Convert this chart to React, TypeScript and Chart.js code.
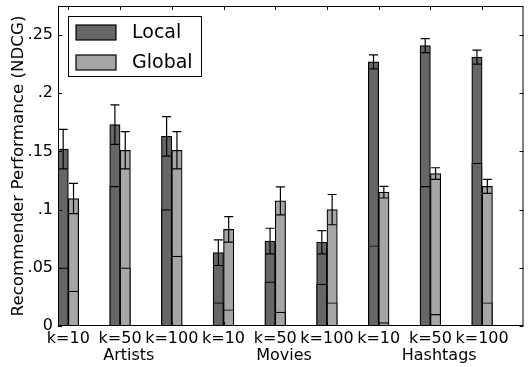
import React, { useEffect, useRef } from "react";
import { Chart, registerables } from "chart.js";

Chart.register(...registerables);

const K_LABELS = ["k=10", "k=50", "k=100", "k=10", "k=50", "k=100", "k=10", "k=50", "k=100"];
const GROUP_LABELS = ["Artists", "Movies", "Hashtags"];
const GROUP_INDEX = [1, 4, 7];

const LOCAL = [0.152, 0.173, 0.163, 0.063, 0.073, 0.072, 0.227, 0.241, 0.231];
const LOCAL_ERR = [0.017, 0.017, 0.017, 0.011, 0.011, 0.010, 0.006, 0.006, 0.006];
const LOCAL_BASE = [0.05, 0.12, 0.10, 0.02, 0.038, 0.036, 0.069, 0.12, 0.14];

const GLOBAL = [0.1095, 0.151, 0.151, 0.083, 0.1075, 0.1, 0.115, 0.131, 0.12];
const GLOBAL_ERR = [0.013, 0.016, 0.016, 0.011, 0.012, 0.013, 0.005, 0.005, 0.006];
const GLOBAL_BASE = [0.03, 0.05, 0.06, 0.014, 0.012, 0.02, 0.003, 0.01, 0.02];

const Y_TICKS = [0, 0.05, 0.1, 0.15, 0.2, 0.25];
const Y_MAX = 0.275;

const LOCAL_COLOR = "#666666";
const GLOBAL_COLOR = "#a6a6a6";
const FONT = "DejaVu Sans";

const fmt = (v: number) => (v === 0 ? "0" : String(v).replace(/^0/, ""));

export default function App() {
  const ref = useRef<HTMLCanvasElement | null>(null);

  useEffect(() => {
    document.body.style.margin = "0";
    const canvas = ref.current;
    if (!canvas) return;

    const nulls = K_LABELS.map(() => null);
    const barBase = {
      borderColor: "#000",
      borderWidth: 1.2,
      borderSkipped: false as const,
      barPercentage: 1,
      categoryPercentage: 1,
    };

    const slotOf = (chart: any) => (chart.chartArea.right - chart.chartArea.left) / K_LABELS.length;
    const tickX = (chart: any, i: number) => chart.chartArea.left + (i + 0.2) * slotOf(chart);

    const decor = {
      id: "decor",
      afterDatasetsDraw(chart: any) {
        const ctx = chart.ctx;
        const { left, right, top, bottom } = chart.chartArea;
        const y = chart.scales.y;
        ctx.save();
        // error bars
        ctx.strokeStyle = "#000";
        ctx.lineWidth = 1.2;
        const errSets: [number, number[], number[]][] = [
          [0, LOCAL, LOCAL_ERR],
          [1, GLOBAL, GLOBAL_ERR],
        ];
        for (const [di, vals, errs] of errSets) {
          const meta = chart.getDatasetMeta(di);
          meta.data.forEach((el: any, i: number) => {
            const x = el.x;
            const y1 = y.getPixelForValue(vals[i] + errs[i]);
            const y2 = y.getPixelForValue(vals[i] - errs[i]);
            ctx.beginPath();
            ctx.moveTo(x, y1);
            ctx.lineTo(x, y2);
            ctx.moveTo(x - 4.5, y1);
            ctx.lineTo(x + 4.5, y1);
            ctx.moveTo(x - 4.5, y2);
            ctx.lineTo(x + 4.5, y2);
            ctx.stroke();
          });
        }
        // frame
        ctx.lineWidth = 1;
        ctx.strokeRect(left + 0.5, top + 0.5, right - left - 1, bottom - top - 1);
        // ticks
        ctx.beginPath();
        for (const v of Y_TICKS) {
          const py = Math.round(y.getPixelForValue(v)) + 0.5;
          ctx.moveTo(left, py);
          ctx.lineTo(left + 4, py);
          ctx.moveTo(right, py);
          ctx.lineTo(right - 4, py);
        }
        for (let i = 0; i < K_LABELS.length; i++) {
          const px = Math.round(tickX(chart, i)) + 0.5;
          ctx.moveTo(px, top);
          ctx.lineTo(px, top + 4);
          ctx.moveTo(px, bottom);
          ctx.lineTo(px, bottom - 4);
        }
        ctx.stroke();
        // x labels
        ctx.fillStyle = "#000";
        ctx.font = `16px '${FONT}'`;
        ctx.textAlign = "center";
        ctx.textBaseline = "alphabetic";
        K_LABELS.forEach((lab, i) => {
          ctx.fillText(lab, tickX(chart, i), bottom + 17);
        });
        GROUP_LABELS.forEach((lab, g) => {
          ctx.fillText(lab, tickX(chart, GROUP_INDEX[g]) + 0.17 * slotOf(chart), bottom + 34);
        });
        // legend
        const lx = left + 10;
        const ly = top + 10;
        ctx.fillStyle = "#fff";
        ctx.fillRect(lx, ly, 133, 60);
        ctx.strokeStyle = "#000";
        ctx.lineWidth = 1;
        ctx.strokeRect(lx + 0.5, ly + 0.5, 133, 60);
        const items: [string, string][] = [
          ["Local", LOCAL_COLOR],
          ["Global", GLOBAL_COLOR],
        ];
        items.forEach(([lab, col], k) => {
          const sy = ly + 9 + k * 30;
          ctx.fillStyle = col;
          ctx.fillRect(lx + 8, sy, 40, 15);
          ctx.lineWidth = 1.2;
          ctx.strokeRect(lx + 8, sy, 40, 15);
          ctx.fillStyle = "#000";
          ctx.font = `19px '${FONT}'`;
          ctx.textAlign = "left";
          ctx.textBaseline = "middle";
          ctx.fillText(lab, lx + 64, sy + 8);
        });
        ctx.restore();
      },
    };

    const chart = new Chart(canvas, {
      type: "bar",
      data: {
        labels: K_LABELS,
        datasets: [
          { label: "Local", data: LOCAL, backgroundColor: LOCAL_COLOR, stack: "L", order: 2, ...barBase },
          { label: "Global", data: GLOBAL, backgroundColor: GLOBAL_COLOR, stack: "G", order: 2, ...barBase },
          { label: "d1", data: nulls, stack: "d1", order: 3, ...barBase },
          { label: "d2", data: nulls, stack: "d2", order: 3, ...barBase },
          { label: "d3", data: nulls, stack: "d3", order: 3, ...barBase },
          { label: "Local base", data: LOCAL_BASE, backgroundColor: LOCAL_COLOR, stack: "L", order: 1, ...barBase },
          { label: "Global base", data: GLOBAL_BASE, backgroundColor: GLOBAL_COLOR, stack: "G", order: 1, ...barBase },
        ],
      },
      options: {
        animation: false,
        responsive: true,
        maintainAspectRatio: false,
        layout: { padding: { left: 0, right: 8.5, top: 6, bottom: 0 } },
        plugins: { legend: { display: false }, tooltip: { enabled: false } },
        scales: {
          x: {
            stacked: true,
            grid: { display: false },
            border: { display: false },
            ticks: { display: false },
            afterFit: (s: any) => {
              s.height = 41;
            },
          },
          y: {
            stacked: false,
            min: 0,
            max: Y_MAX,
            grid: { display: false, drawTicks: false },
            border: { display: false },
            afterBuildTicks: (s: any) => {
              s.ticks = Y_TICKS.map((v) => ({ value: v }));
            },
            ticks: {
              color: "#000",
              padding: 5,
              font: { family: FONT, size: 16 },
              callback: (v: any) => fmt(Number(v)),
            },
            title: {
              display: true,
              text: "Recommender Performance (NDCG)",
              color: "#000",
              font: { family: FONT, size: 16.7 },
              padding: { top: 9, bottom: 0 },
            },
            afterFit: (s: any) => {
              s.width = 58;
              s.paddingTop = 0;
              s.paddingBottom = 0;
            },
          },
        },
      },
      plugins: [decor],
    });
    return () => chart.destroy();
  }, []);

  return (
    <div style={{ width: 532, height: 367, position: "relative" }}>
      <canvas ref={ref} />
    </div>
  );
}
